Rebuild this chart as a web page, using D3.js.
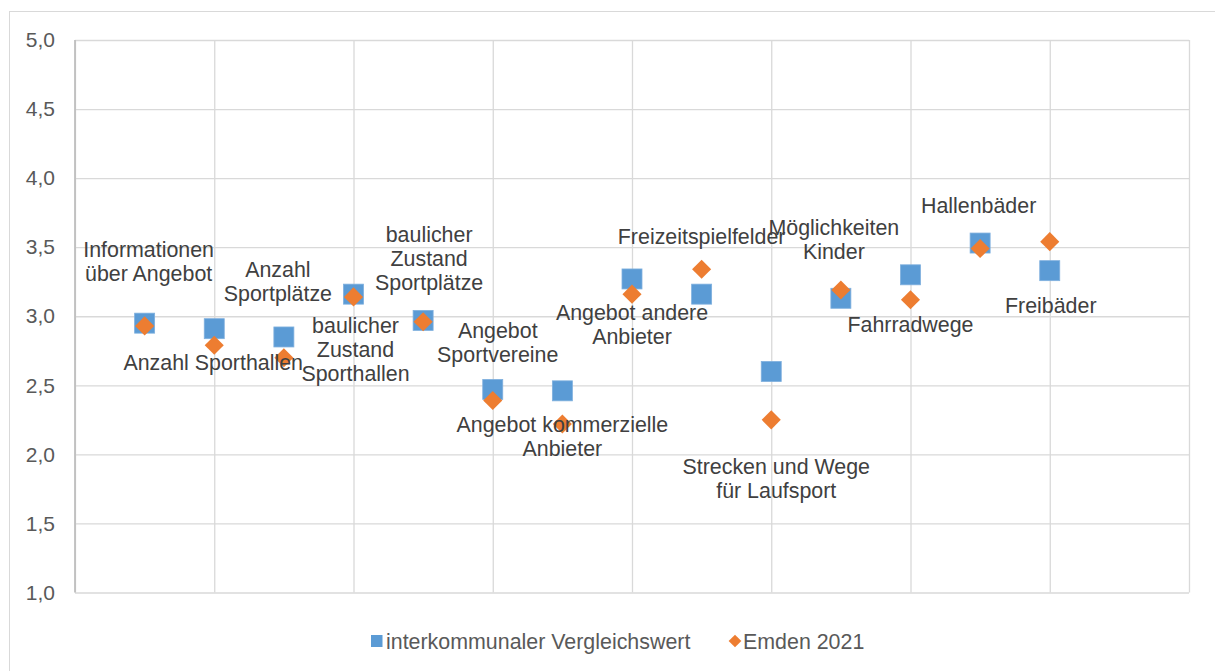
<!DOCTYPE html>
<html>
<head>
<meta charset="utf-8">
<script src="https://cdn.jsdelivr.net/npm/d3@7"></script>
<style>
  html, body { margin: 0; padding: 0; background: #fff; }
  svg { display: block; font-family: "Liberation Sans", Arial, sans-serif; }
</style>
</head>
<body>
<svg id="chart" width="1215" height="671"></svg>
<script>
// ---- data ----
const categories = [
  "Informationen\nüber Angebot",
  "Anzahl Sporthallen",
  "Anzahl\nSportplätze",
  "baulicher\nZustand\nSporthallen",
  "baulicher\nZustand\nSportplätze",
  "Angebot\nSportvereine",
  "Angebot kommerzielle\nAnbieter",
  "Angebot andere\nAnbieter",
  "Freizeitspielfelder",
  "Strecken und Wege\nfür Laufsport",
  "Möglichkeiten\nKinder",
  "Fahrradwege",
  "Hallenbäder",
  "Freibäder"
];
const vergleichswert = [2.95, 2.91, 2.85, 3.16, 2.97, 2.47, 2.46, 3.27, 3.16, 2.60, 3.13, 3.30, 3.53, 3.33];
const emden2021      = [2.93, 2.79, 2.70, 3.14, 2.96, 2.39, 2.22, 3.16, 3.34, 2.25, 3.19, 3.12, 3.49, 3.54];
const seriesNames = ["interkommunaler Vergleichswert", "Emden 2021"];
const yTicks = [1.0, 1.5, 2.0, 2.5, 3.0, 3.5, 4.0, 4.5, 5.0];
const xGridTicks = [0, 2, 4, 6, 8, 10, 12, 14, 16];

// ---- label layout (pixel offsets from the square marker: center x, first baseline) ----
const labelOffsets = [
  [4, -66], [-1, 41], [-6, -60], [2, 39], [6, -78], [5, -51], [0, 41.5],
  [0, 41], [0, -50], [5, 102.5], [-7, -63], [0, 57.5], [-1.5, -30], [1, 42]
];

// ---- layout ----
const svg = d3.select("#chart");
const plotL = 75, plotR = 1189, plotT = 40, plotB = 592.5;
const x = d3.scaleLinear().domain([0, 16]).range([plotL, plotR]);
const y = d3.scaleLinear().domain([1, 5]).range([plotB, plotT]);
const fmt = d3.formatLocale({decimal: ",", thousands: ".", grouping: [3], currency: ["", "€"]}).format(".1f");

const blue = "#5B9BD5", orange = "#ED7D31", grid = "#d9d9d9";
const fontSize = 21.4;

// outer chart border
svg.append("rect").attr("x", 9.5).attr("y", 11.5).attr("width", 1215).attr("height", 700)
  .attr("fill", "none").attr("stroke", grid).attr("stroke-width", 1);

// horizontal gridlines + y tick labels
const yAxis = svg.append("g").attr("transform", `translate(${plotL},0)`)
  .call(d3.axisLeft(y).tickValues(yTicks).tickSize(-(plotR - plotL)).tickPadding(20).tickFormat(fmt));
yAxis.select(".domain").remove();
yAxis.selectAll(".tick line").attr("stroke", grid).attr("stroke-width", 1.3);
yAxis.selectAll(".tick text").attr("fill", "#595959").attr("font-size", 21)
  .attr("font-family", "Liberation Sans, Arial, sans-serif");

// vertical gridlines
const xAxis = svg.append("g").attr("transform", `translate(0,${plotB})`)
  .call(d3.axisBottom(x).tickValues(xGridTicks).tickSize(-(plotB - plotT)).tickFormat(""));
xAxis.select(".domain").remove();
xAxis.selectAll(".tick line").attr("stroke", grid).attr("stroke-width", 1.3);

// left axis line
svg.append("line").attr("x1", x(0)).attr("x2", x(0)).attr("y1", plotT).attr("y2", plotB)
  .attr("stroke", "#bfbfbf").attr("stroke-width", 1.8);

// squares
const sq = 20;
svg.append("g").selectAll("rect").data(vergleichswert).join("rect")
  .attr("x", (d, i) => x(i + 1) - sq / 2)
  .attr("y", d => y(d) - sq / 2)
  .attr("width", sq).attr("height", sq)
  .attr("fill", blue).attr("stroke", "#7fb0de").attr("stroke-width", 0.8);

// diamonds
const dSide = 13.5;
svg.append("g").selectAll("rect").data(emden2021).join("rect")
  .attr("x", -dSide / 2).attr("y", -dSide / 2)
  .attr("width", dSide).attr("height", dSide)
  .attr("transform", (d, i) => `translate(${x(i + 1)},${y(d)}) rotate(45)`)
  .attr("fill", orange);

// data labels
const lbl = svg.append("g").attr("font-size", fontSize).attr("fill", "#404040").attr("text-anchor", "middle");
categories.forEach((c, i) => {
  const cx = x(i + 1) + labelOffsets[i][0];
  const by = y(vergleichswert[i]) + labelOffsets[i][1];
  const t = lbl.append("text").attr("x", cx).attr("y", by);
  c.split("\n").forEach((line, j) => {
    t.append("tspan").attr("x", cx).attr("dy", j === 0 ? 0 : 24).text(line);
  });
});

// legend
const leg = svg.append("g").attr("font-size", fontSize).attr("fill", "#595959");
leg.append("rect").attr("x", 371).attr("y", 635).attr("width", 11.5).attr("height", 12).attr("fill", blue);
leg.append("text").attr("x", 386).attr("y", 648.5).text(seriesNames[0]);
leg.append("rect").attr("x", -4.5).attr("y", -4.5).attr("width", 9).attr("height", 9)
  .attr("transform", "translate(735,641) rotate(45)").attr("fill", orange);
leg.append("text").attr("x", 743).attr("y", 648.5).text(seriesNames[1]);
</script>
</body>
</html>
